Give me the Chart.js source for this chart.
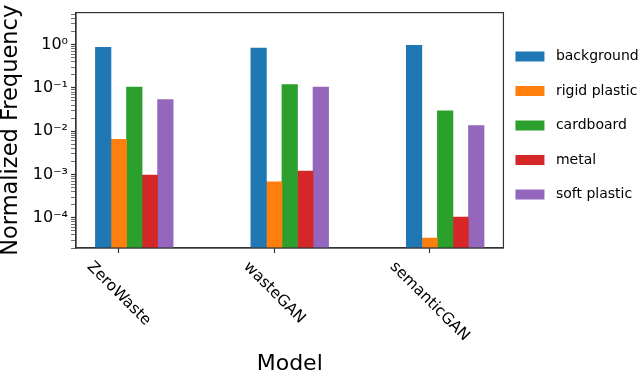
<!DOCTYPE html>
<html>
<head>
<meta charset="utf-8">
<script src="https://cdn.jsdelivr.net/npm/chart.js@4/dist/chart.umd.min.js"></script>
<style>
  html, body { margin: 0; padding: 0; background: #fff; }
</style>
</head>
<body>
<canvas id="freqChart" width="640" height="375"></canvas>
<script>
// categories on the x axis
const categories = ['ZeroWaste', 'wasteGAN', 'semanticGAN'];

// normalized frequency per class, one value per model
const background = [0.87, 0.83, 0.97];
const rigidPlastic = [0.0065, 0.00068, 0.000034];
const cardboard = [0.105, 0.12, 0.0295];
const metal = [0.00097, 0.0012, 0.000104];
const softPlastic = [0.054, 0.105, 0.0135];

const seriesNames = ['background', 'rigid plastic', 'cardboard', 'metal', 'soft plastic'];
const seriesValues = [background, rigidPlastic, cardboard, metal, softPlastic];
const colors = ['#1f77b4', '#ff7f0e', '#2ca02c', '#d62728', '#9467bd'];

const FONT = 'DejaVu Sans';
const barWidth = 0.1; // in category units, bars sit side by side

const supDigits = { '0': '⁰', '1': '¹', '2': '²', '3': '³', '4': '⁴', '5': '⁵', '6': '⁶', '7': '⁷', '8': '⁸', '9': '⁹', '-': '⁻' };
const isDecade = (v) => Math.abs(Math.log10(v) - Math.round(Math.log10(v))) < 1e-9;
const powLabel = (v) => '10' + String(Math.round(Math.log10(v))).split('').map((c) => supDigits[c]).join('');

const datasets = seriesValues.map((vals, k) => ({
  label: seriesNames[k],
  data: vals.map((v, i) => ({ x: i + (k - 1) * barWidth, y: v })),
  backgroundColor: colors[k],
  borderWidth: 0,
  grouped: false,
  barPercentage: 1,
  categoryPercentage: 1,
}));

// full box around the plot area, like matplotlib spines
const framePlugin = {
  id: 'frame',
  afterDatasetsDraw(chart) {
    const { ctx, chartArea: a } = chart;
    ctx.save();
    ctx.strokeStyle = '#333';
    ctx.lineWidth = 1.2;
    ctx.strokeRect(a.left, a.top, a.right - a.left, a.bottom - a.top);
    ctx.restore();
  },
};

// x tick labels rotated clockwise, centred under each tick
const rotatedLabels = {
  id: 'rotatedLabels',
  afterDraw(chart) {
    const { ctx } = chart;
    const xs = chart.scales.x;
    ctx.save();
    ctx.font = '15.5px "' + FONT + '"';
    ctx.fillStyle = '#000';
    ctx.textAlign = 'center';
    ctx.textBaseline = 'middle';
    categories.forEach((name, i) => {
      const m = ctx.measureText(name);
      const h = m.fontBoundingBoxAscent + m.fontBoundingBoxDescent;
      const half = (m.width + h) * Math.SQRT1_2 / 2;
      const px = xs.getPixelForValue(i);
      ctx.save();
      ctx.translate(px, xs.top + 10 + half);
      ctx.rotate(Math.PI / 4);
      ctx.fillText(name, 0, 0);
      ctx.restore();
    });
    ctx.restore();
  },
};

// move the legend so its boxes start just right of the plot, near the top
const legendNudge = {
  id: 'legendNudge',
  afterLayout(chart) {
    const lg = chart.legend;
    const dx = chart.chartArea.right + 12 - (lg.left + lg.options.labels.padding);
    const dy = 29 - lg.top;
    lg.left += dx;
    lg.right += dx;
    lg.top += dy;
    lg.bottom += dy;
  },
};

new Chart(document.getElementById('freqChart'), {
  type: 'bar',
  data: { datasets },
  options: {
    responsive: false,
    animation: false,
    layout: { padding: { top: 6, right: -17.2, bottom: 0, left: 0 } },
    plugins: {
      tooltip: { enabled: false },
      legend: {
        position: 'right',
        align: 'start',
        labels: {
          boxWidth: 29,
          boxHeight: 10,
          padding: 20.5,
          color: '#000',
          font: { family: FONT, size: 14 },
          // a little extra room between patch and text
          generateLabels: (chart) =>
            Chart.defaults.plugins.legend.labels.generateLabels(chart).map((l) => ({ ...l, text: ' ' + l.text })),
        },
      },
    },
    scales: {
      x: {
        type: 'linear',
        offset: false,
        min: -0.275,
        max: 2.475,
        afterBuildTicks: (scale) => {
          scale.ticks = categories.map((c, i) => ({ value: i }));
        },
        afterFit: (scale) => { scale.height = 127; },
        ticks: { display: false },
        grid: { offset: false, drawOnChartArea: false, tickLength: 5, tickColor: '#333', tickWidth: 1.2 },
        border: { color: '#333', width: 1.2 },
        title: {
          display: true,
          text: 'Model',
          color: '#000',
          padding: 0,
          font: { family: FONT, size: 22, lineHeight: 1 },
        },
      },
      y: {
        type: 'logarithmic',
        min: 2e-5,
        max: 5.5,
        afterBuildTicks: (scale) => {
          const ticks = [];
          for (let e = -5; e <= 0; e++) {
            for (let m = 1; m <= 9; m++) {
              const v = m * Math.pow(10, e);
              if (v >= scale.min && v <= scale.max) ticks.push({ value: v, major: m === 1 });
            }
          }
          scale.ticks = ticks;
        },
        afterFit: (scale) => { scale.width = 76; },
        ticks: {
          autoSkip: false,
          padding: 3,
          color: '#000',
          font: { family: FONT, size: 16 },
          callback: (v) => (isDecade(v) ? powLabel(v) : ''),
        },
        grid: {
          drawOnChartArea: false,
          tickLength: 5,
          tickColor: '#333',
          tickWidth: (c) => (c.tick && isDecade(c.tick.value) ? 1.2 : 0.7),
        },
        border: { color: '#333', width: 1.2 },
        title: {
          display: true,
          text: 'Normalized Frequency',
          color: '#000',
          padding: 0,
          font: { family: FONT, size: 22.5, lineHeight: 1 },
        },
      },
    },
  },
  plugins: [framePlugin, rotatedLabels, legendNudge],
});
</script>
</body>
</html>
